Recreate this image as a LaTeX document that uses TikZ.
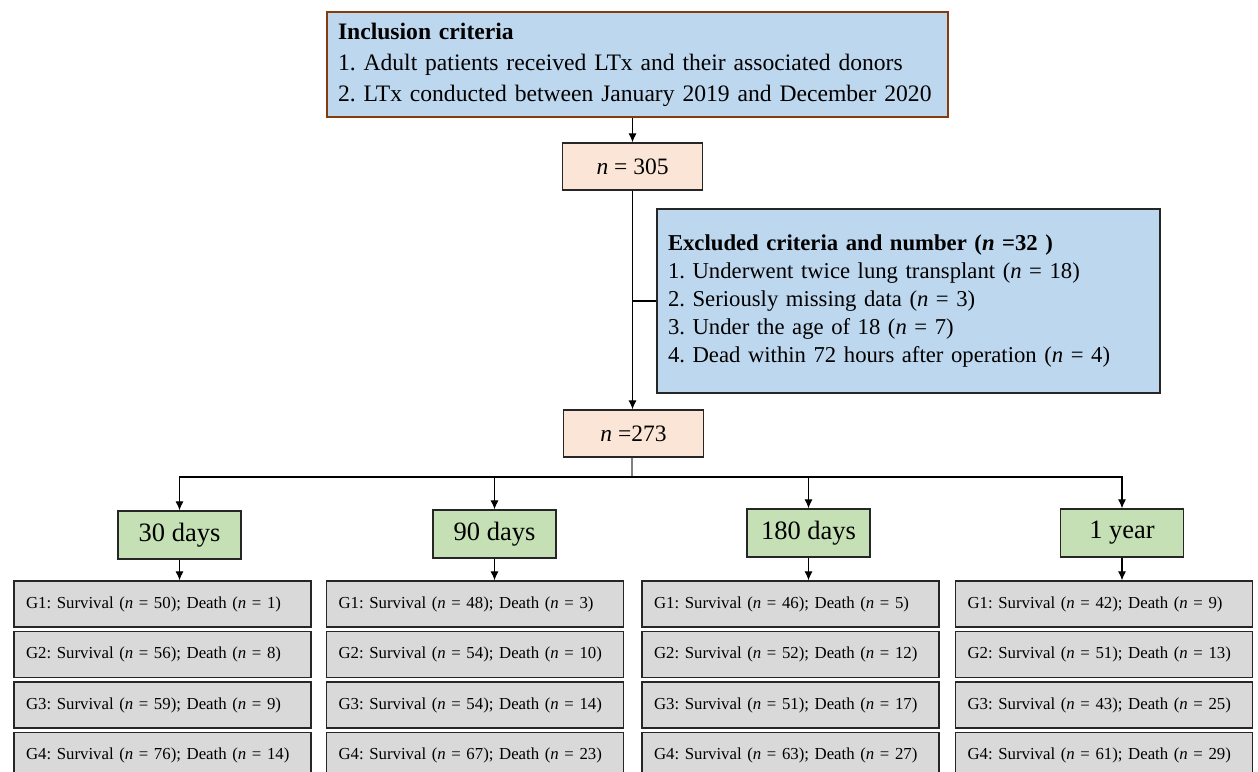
\documentclass[tikz,border=0pt]{standalone}
\usepackage{fontspec}
\setmainfont{Liberation Serif}
\frenchspacing
\usetikzlibrary{arrows.meta}

\definecolor{critblue}{HTML}{BDD7EE}
\definecolor{critedge}{HTML}{843C0C}
\definecolor{countpeach}{HTML}{FBE5D6}
\definecolor{timegreen}{HTML}{C5E0B4}
\definecolor{groupgray}{HTML}{D9D9D9}

\tikzset{
  box/.style={draw=black!85, line width=1.3pt, inner sep=0pt},
  critbox/.style={box, fill=critblue, align=left, inner xsep=11pt},
  countbox/.style={box, fill=countpeach, minimum width=140pt, minimum height=47pt,
    font=\fontsize{23.5}{28}\selectfont},
  timebox/.style={box, fill=timegreen, minimum width=123pt, minimum height=48pt,
    font=\fontsize{26.5}{32}\selectfont},
  groupbox/.style={box, fill=groupgray, minimum width=297pt, minimum height=46pt,
    text width=273pt, align=left, font=\fontsize{16.8}{20}\selectfont},
  arr/.style={line width=1.1pt, -{Latex[length=9pt,width=8pt]}},
  link/.style={line width=1.1pt},
}

\begin{document}
\begin{tikzpicture}[x=1pt, y=-1pt]
  \useasboundingbox (0,0) rectangle (1258,771);

  % criteria
  \node[critbox, draw=critedge, minimum width=621pt, minimum height=105pt,
    text width=599pt, font=\fontsize{23.6}{31}\selectfont] (incl) at (637.5,64.5)
    {\mbox{\textbf{Inclusion criteria}}\\
     \mbox{1. Adult patients received LTx and their associated donors}\\
     \mbox{2. LTx conducted between January 2019 and December 2020}};
  \node[critbox, minimum width=503pt, minimum height=184pt,
    text width=481pt, font=\fontsize{22.7}{28}\selectfont] (excl) at (908.5,301)
    {\textbf{Excluded criteria and number (\textit{n} =32 )}\\
     1. Underwent twice lung transplant (\textit{n} = 18)\\
     2. Seriously missing data (\textit{n} = 3)\\
     3. Under the age of 18 (\textit{n} = 7)\\
     4. Dead within 72 hours after operation (\textit{n} = 4)};

  % counts
  \node[countbox] (n305) at (632.5,166.5) {\textit{n} = 305};
  \node[countbox] (n273) at (633.5,433.5) {\textit{n} =273};

  % time points
  \node[timebox] (d30) at (179.5,535) {30 days};
  \node[timebox] (d90) at (494.5,534) {90 days};
  \node[timebox] (d180) at (808.5,533) {180 days};
  \node[timebox] (y1) at (1122,533) {1 year};

  % groups
  \node[groupbox] (a1) at (162.5,604) {G1: Survival (\textit{n} = 50); Death (\textit{n} = 1)};
  \node[groupbox] (a2) at (162.5,654.5) {G2: Survival (\textit{n} = 56); Death (\textit{n} = 8)};
  \node[groupbox] (a3) at (162.5,705) {G3: Survival (\textit{n} = 59); Death (\textit{n} = 9)};
  \node[groupbox] (a4) at (162.5,755.5) {G4: Survival (\textit{n} = 76); Death (\textit{n} = 14)};

  \node[groupbox] (b1) at (475,604) {G1: Survival (\textit{n} = 48); Death (\textit{n} = 3)};
  \node[groupbox] (b2) at (475,654.5) {G2: Survival (\textit{n} = 54); Death (\textit{n} = 10)};
  \node[groupbox] (b3) at (475,705) {G3: Survival (\textit{n} = 54); Death (\textit{n} = 14)};
  \node[groupbox] (b4) at (475,755.5) {G4: Survival (\textit{n} = 67); Death (\textit{n} = 23)};

  \node[groupbox] (c1) at (790.5,604) {G1: Survival (\textit{n} = 46); Death (\textit{n} = 5)};
  \node[groupbox] (c2) at (790.5,654.5) {G2: Survival (\textit{n} = 52); Death (\textit{n} = 12)};
  \node[groupbox] (c3) at (790.5,705) {G3: Survival (\textit{n} = 51); Death (\textit{n} = 17)};
  \node[groupbox] (c4) at (790.5,755.5) {G4: Survival (\textit{n} = 63); Death (\textit{n} = 27)};

  \node[groupbox] (e1) at (1104,604) {G1: Survival (\textit{n} = 42); Death (\textit{n} = 9)};
  \node[groupbox] (e2) at (1104,654.5) {G2: Survival (\textit{n} = 51); Death (\textit{n} = 13)};
  \node[groupbox] (e3) at (1104,705) {G3: Survival (\textit{n} = 43); Death (\textit{n} = 25)};
  \node[groupbox] (e4) at (1104,755.5) {G4: Survival (\textit{n} = 61); Death (\textit{n} = 29)};

  % connectors
  \draw[arr] (incl.south -| n305.north) -- (n305.north);
  \draw[arr] (n305.south) -- (n305.south |- n273.north);
  \draw[link] (n305.south |- excl.west) -- (excl.west);
  \coordinate (hub) at (632,477);
  \draw[link, gray] (hub |- n273.south) -- (hub);
  \draw[arr] (hub) -| (d30.north);
  \draw[arr] (hub) -| (d90.north);
  \draw[arr] (hub) -| (d180.north);
  \draw[arr] (hub) -| (y1.north);
  \draw[arr] (d30.south) -- (d30.south |- a1.north);
  \draw[arr] (d90.south) -- (d90.south |- b1.north);
  \draw[arr] (d180.south) -- (d180.south |- c1.north);
  \draw[arr] (y1.south) -- (y1.south |- e1.north);
\end{tikzpicture}
\end{document}
